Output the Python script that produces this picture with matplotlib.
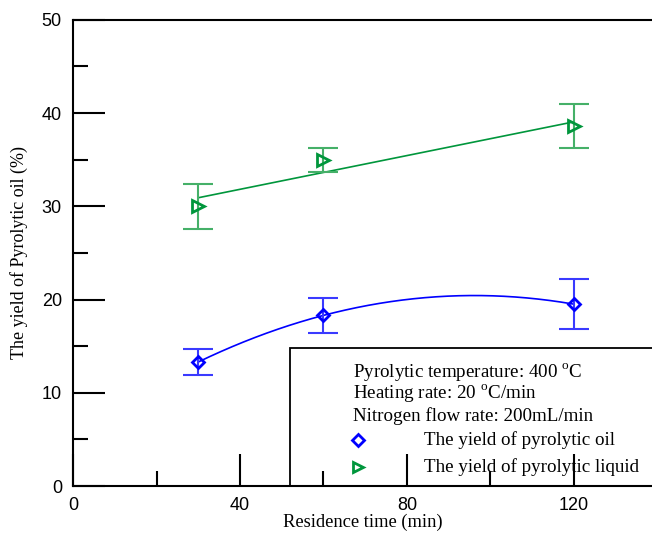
import numpy as np
import matplotlib
matplotlib.use('Agg')
import matplotlib.pyplot as plt
from matplotlib.patches import Rectangle

plt.rcParams['mathtext.fontset'] = 'custom'
plt.rcParams['mathtext.rm'] = 'Liberation Serif'

# residence time (min)
time = [30, 60, 120]
# yield of pyrolytic oil (%) and error
oil = [13.3, 18.3, 19.5]
oil_err = [1.35, 1.9, 2.65]
# yield of pyrolytic liquid (%) and error
liquid = [30.0, 35.0, 38.6]
liquid_err = [2.4, 1.3, 2.4]

blue = '#0000ff'
green = '#00963c'
serif = 'Liberation Serif'
sans = 'Liberation Sans'
fs = 13.7

fig = plt.figure(figsize=(6.52, 5.39), dpi=100)
ax = fig.add_axes([0.112, 0.0983, 0.888, 0.865])

# fitted curves
xs = np.linspace(30, 120, 200)
p_oil = np.polyfit(time, oil, 2)
p_liq = np.polyfit(time, liquid, 1)
ax.plot(xs, np.polyval(p_oil, xs), color=blue, lw=1.2)
ax.plot(xs, np.polyval(p_liq, xs), color=green, lw=1.2)

# error bars
ax.errorbar(time, oil, yerr=oil_err, fmt='none', ecolor='#3a3aff',
            elinewidth=1.5, capsize=11, capthick=1.5)
ax.errorbar(time, liquid, yerr=liquid_err, fmt='none', ecolor='#45b068',
            elinewidth=1.5, capsize=11, capthick=1.5)
ax.plot(time, oil, 'D', mfc='none', mec=blue, mew=2, ms=6.5)
ax.plot(time, liquid, '>', mfc='none', mec=green, mew=2, ms=8)

ax.set_xlim(0, 138.7)
ax.set_ylim(0, 50)
ax.set_xticks([0, 40, 80, 120])
ax.set_xticks([20, 60, 100], minor=True)
ax.set_yticks([0, 10, 20, 30, 40, 50])
ax.set_yticks([5, 15, 25, 35, 45], minor=True)
ax.tick_params(which='major', direction='in', length=23, width=1.5,
               labelsize=13, pad=8)
ax.tick_params(which='minor', direction='in', length=11, width=1.5)
for lab in ax.get_xticklabels() + ax.get_yticklabels():
    lab.set_fontfamily(sans)
ax.spines['right'].set_visible(False)
for s in ['left', 'bottom', 'top']:
    ax.spines[s].set_linewidth(1.5)

ax.set_xlabel('Residence time (min)', fontfamily=serif, fontsize=13.3, labelpad=0)
ax.set_ylabel('The yield of Pyrolytic oil (%)', fontfamily=serif, fontsize=13,
              labelpad=10)

# legend box
ax.add_patch(Rectangle((0.375, 0), 0.7, 0.296, transform=ax.transAxes,
                       fill=False, ec='black', lw=1.3, clip_on=True))
tx = 0.484
ax.text(tx, 0.245, 'Pyrolytic temperature: 400 $^\\mathrm{o}$C', transform=ax.transAxes,
        fontfamily=serif, fontsize=fs, va='center')
ax.text(tx, 0.199, 'Heating rate: 20 $^\\mathrm{o}$C/min', transform=ax.transAxes,
        fontfamily=serif, fontsize=fs, va='center')
ax.text(tx, 0.150, 'Nitrogen flow rate: 200mL/min', transform=ax.transAxes,
        fontfamily=serif, fontsize=fs, va='center')
ax.plot([0.492], [0.099], 'D', mfc='none', mec=blue, mew=2, ms=6,
        transform=ax.transAxes)
ax.plot([0.492], [0.040], '>', mfc='none', mec=green, mew=2, ms=7,
        transform=ax.transAxes)
ax.text(0.606, 0.099, 'The yield of pyrolytic oil', transform=ax.transAxes,
        fontfamily=serif, fontsize=fs, va='center')
ax.text(0.606, 0.040, 'The yield of pyrolytic liquid', transform=ax.transAxes,
        fontfamily=serif, fontsize=fs, va='center')

fig.savefig('out.png', dpi=100)
